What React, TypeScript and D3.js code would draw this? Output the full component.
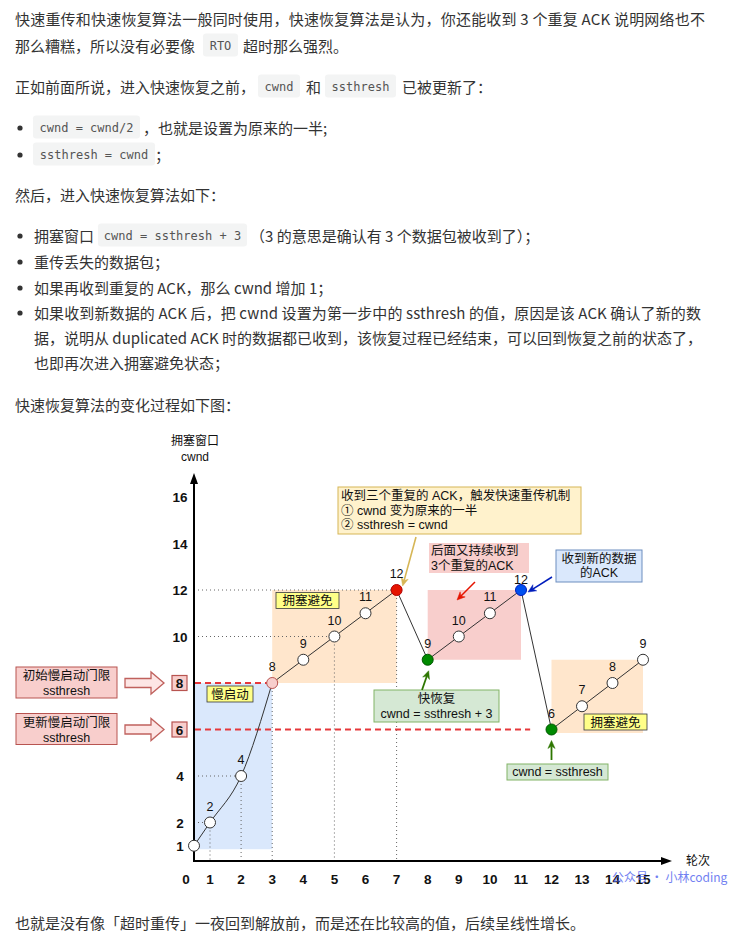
import React from 'react';
import * as d3 from 'd3';

// ---------- chart data ----------
const rounds = [0, 1, 2, 3, 4, 5, 6, 7, 8, 9, 10, 11, 12, 13, 14, 15];
const cwndValues = [1, 2, 4, 8, 9, 10, 11, 12, 9, 10, 11, 12, 6, 7, 8, 9];
const pointKinds = ['n', 'n', 'n', 'thresh', 'n', 'n', 'n', 'loss', 'fast', 'n', 'n', 'newack', 'fast', 'n', 'n', 'n'];
const yTickValues = [1, 2, 4, 6, 8, 10, 12, 14, 16];
const xTickValues = rounds;
const thresholdValues = [8, 6];
const thresholdEndRounds = [3, 11.3];
const thresholdLabels = ['初始慢启动门限', '更新慢启动门限'];
const phaseStartRounds = [0, 3, 8, 12];
const phaseEndRounds = [3, 7, 11, 15];
const phaseLowValues = [0.85, 8, 9, 5.85];
const phaseHighValues = [8, 12, 12, 9];
const phaseColors = ['#dae8fc', '#ffe6cc', '#f8cecc', '#ffe6cc'];
const verticalGuideRounds = [1, 2, 3, 5, 7];
const horizontalGuideRounds = [1, 2, 5, 7];

// ---------- page text ----------
type Seg = { t: string; x: number; code?: boolean; w?: number; fit?: number };
const bodyLines: { y: number; bullet?: boolean; segs: Seg[] }[] = [
  { y: 18, segs: [{ t: '快速重传和快速恢复算法一般同时使用，快速恢复算法是认为，你还能收到 3 个重复 ACK 说明网络也不', x: 15, fit: 690 }] },
  { y: 45, segs: [{ t: '那么糟糕，所以没有必要像', x: 15 }, { t: 'RTO', x: 203, code: true, w: 35 }, { t: '超时那么强烈。', x: 243 }] },
  { y: 86, segs: [{ t: '正如前面所说，进入快速恢复之前，', x: 15 }, { t: 'cwnd', x: 258, code: true, w: 42 }, { t: '和', x: 306 }, { t: 'ssthresh', x: 325, code: true, w: 71 }, { t: '已被更新了：', x: 402 }] },
  { y: 127, bullet: true, segs: [{ t: 'cwnd = cwnd/2', x: 33, code: true, w: 107 }, { t: '，也就是设置为原来的一半;', x: 143 }] },
  { y: 154, bullet: true, segs: [{ t: 'ssthresh = cwnd', x: 33, code: true, w: 122 }, { t: '；', x: 155 }] },
  { y: 194, segs: [{ t: '然后，进入快速恢复算法如下：', x: 15 }] },
  { y: 235, bullet: true, segs: [{ t: '拥塞窗口', x: 34 }, { t: 'cwnd = ssthresh + 3', x: 98, code: true, w: 149 }, { t: '（3 的意思是确认有 3 个数据包被收到了）；', x: 250 }] },
  { y: 261, bullet: true, segs: [{ t: '重传丢失的数据包；', x: 34 }] },
  { y: 287, bullet: true, segs: [{ t: '如果再收到重复的 ACK，那么 cwnd 增加 1；', x: 34 }] },
  { y: 312, bullet: true, segs: [{ t: '如果收到新数据的 ACK 后，把 cwnd 设置为第一步中的 ssthresh 的值，原因是该 ACK 确认了新的数', x: 34, fit: 667 }] },
  { y: 337, segs: [{ t: '据，说明从 duplicated ACK 时的数据都已收到，该恢复过程已经结束，可以回到恢复之前的状态了，', x: 34, fit: 668 }] },
  { y: 362, segs: [{ t: '也即再次进入拥塞避免状态；', x: 34 }] },
  { y: 404, segs: [{ t: '快速恢复算法的变化过程如下图：', x: 15 }] },
  { y: 922, segs: [{ t: '也就是没有像「超时重传」一夜回到解放前，而是还在比较高的值，后续呈线性增长。', x: 15 }] },
];

const BODY_FONT = '"Noto Sans CJK SC", "Noto Sans", sans-serif';
const CODE_FONT = '"DejaVu Sans Mono", "Liberation Mono", monospace';
const CHART_FONT = '"Liberation Sans", Arial, "Noto Sans CJK SC", sans-serif';

function ArrowLine({ x1, y1, x2, y2, color, width = 1.5, head = 8 }: any) {
  const ang = Math.atan2(y2 - y1, x2 - x1);
  const bx = x2 - head * Math.cos(ang);
  const by = y2 - head * Math.sin(ang);
  const hw = head * 0.45;
  const p1 = [bx + hw * Math.sin(ang), by - hw * Math.cos(ang)];
  const p2 = [bx - hw * Math.sin(ang), by + hw * Math.cos(ang)];
  const nx = x2 - head * 0.7 * Math.cos(ang);
  const ny = y2 - head * 0.7 * Math.sin(ang);
  return (
    <g>
      <line x1={x1} y1={y1} x2={nx} y2={ny} stroke={color} strokeWidth={width} />
      <polygon points={`${x2},${y2} ${p1[0]},${p1[1]} ${nx},${ny} ${p2[0]},${p2[1]}`} fill={color} stroke={color} strokeWidth={0.5} />
    </g>
  );
}

function Tag({ cx, cy, w, h, text }: any) {
  return (
    <g>
      <rect x={cx - w / 2} y={cy - h / 2} width={w} height={h} fill="#ffff88" stroke="#36393d" strokeWidth={0.8} />
      <text x={cx} y={cy + 0.5} textAnchor="middle" dominantBaseline="central" fontSize={12.5} fill="#111">{text}</text>
    </g>
  );
}

export default function App() {
  const x = d3.scaleLinear().domain([0, 1, 11, 15]).range([194, 210, 521, 643]);
  const y = d3.scaleLinear().domain([8, 16]).range([683, 497]);
  const axisX = 194;
  const axisY = 861;

  const pts = rounds.map((r, i) => [x(r), y(cwndValues[i])] as [number, number]);
  const curveLine = d3.line().curve(d3.curveMonotoneX)(pts.slice(0, 4)) || '';
  const straightLine = d3.line()(pts.slice(3)) || '';

  const pointStyle = (k: string) => {
    switch (k) {
      case 'thresh': return { fill: '#f8cecc', stroke: '#b85450' };
      case 'loss': return { fill: '#e51400', stroke: '#b20000' };
      case 'fast': return { fill: '#008a00', stroke: '#005700' };
      case 'newack': return { fill: '#0050ef', stroke: '#001dbc' };
      default: return { fill: '#ffffff', stroke: '#333333' };
    }
  };
  const labelDy = (k: string) => (k === 'newack' ? -10 : -16);

  return (
    <svg width={738} height={940} style={{ position: 'absolute', left: 0, top: 0, display: 'block', background: '#fff' }}>
      <rect x={0} y={0} width={738} height={940} fill="#fff" />
      {/* ---- body text ---- */}
      <g fontFamily={BODY_FONT} fontSize={15} fill="#333">
        {bodyLines.map((ln, li) => (
          <g key={li}>
            {ln.bullet && <circle cx={20} cy={ln.y + 1} r={2.6} fill="#333" />}
            {ln.segs.map((s, si) =>
              s.code ? (
                <g key={si}>
                  <rect x={s.x} y={ln.y - 11.5} width={s.w} height={23} rx={3} fill="#f3f4f4" />
                  <text x={s.x + (s.w as number) / 2} y={ln.y + 0.5} textAnchor="middle" dominantBaseline="central"
                    fontFamily={CODE_FONT} fontSize={12} fill="#555">{s.t}</text>
                </g>
              ) : (
                <text key={si} x={s.x} y={ln.y} dominantBaseline="central"
                  {...(s.fit ? { textLength: s.fit, lengthAdjust: 'spacing' } : {})}>{s.t}</text>
              )
            )}
          </g>
        ))}
      </g>

      {/* ---- chart ---- */}
      <g fontFamily={CHART_FONT}>
        {phaseStartRounds.map((s, i) => (
          <rect key={'ph' + i} x={x(s)} y={y(phaseHighValues[i])} width={x(phaseEndRounds[i]) - x(s)}
            height={y(phaseLowValues[i]) - y(phaseHighValues[i])} fill={phaseColors[i]} />
        ))}

        <g stroke="#666" strokeWidth={1} strokeDasharray="1,3">
          {verticalGuideRounds.map((r) => (
            <line key={'vg' + r} x1={x(r)} x2={x(r)} y1={y(cwndValues[r])} y2={axisY} />
          ))}
          {horizontalGuideRounds.map((r) => (
            <line key={'hg' + r} x1={axisX} x2={x(r)} y1={y(cwndValues[r])} y2={y(cwndValues[r])} />
          ))}
        </g>

        {thresholdValues.map((v, i) => (
          <line key={'th' + i} x1={axisX + 1} x2={x(thresholdEndRounds[i])} y1={y(v)} y2={y(v)}
            stroke="#e6383b" strokeWidth={2} strokeDasharray="6,4" />
        ))}

        <line x1={axisX} y1={axisY} x2={axisX} y2={480} stroke="#000" strokeWidth={2} />
        <polygon points={`${axisX},473 ${axisX - 4},484 ${axisX + 4},484`} fill="#000" />
        <line x1={axisX - 1} y1={axisY} x2={664} y2={axisY} stroke="#000" strokeWidth={2} />
        <polygon points={`672,${axisY} 661,${axisY - 4} 661,${axisY + 4}`} fill="#000" />

        <text x={195} y={441} textAnchor="middle" dominantBaseline="central" fontSize={12} fill="#111">拥塞窗口</text>
        <text x={195} y={457} textAnchor="middle" dominantBaseline="central" fontSize={12} fill="#111">cwnd</text>
        <text x={698} y={861} textAnchor="middle" dominantBaseline="central" fontSize={12} fill="#111">轮次</text>

        {yTickValues.map((v) => {
          const boxed = thresholdValues.includes(v);
          return (
            <g key={'yt' + v}>
              {boxed && <rect x={172} y={y(v) - 7.5} width={15} height={15} fill="#f8cecc" stroke="#b85450" strokeWidth={1.2} />}
              <text x={boxed ? 179.5 : 180} y={y(v) + 0.5} textAnchor="middle" dominantBaseline="central"
                fontSize={13.5} fontWeight="bold" fill="#111">{v}</text>
            </g>
          );
        })}
        {xTickValues.map((r) => (
          <text key={'xt' + r} x={r === 0 ? 186 : x(r)} y={879} textAnchor="middle" dominantBaseline="central"
            fontSize={13.5} fontWeight="bold" fill="#111">{r}</text>
        ))}

        <path d={curveLine} fill="none" stroke="#333" strokeWidth={1} />
        <path d={straightLine} fill="none" stroke="#333" strokeWidth={1} />

        <Tag cx={230} cy={694} w={46} h={16} text="慢启动" />
        <Tag cx={307.5} cy={600.5} w={63} h={16} text="拥塞避免" />
        <Tag cx={615.5} cy={722} w={63} h={16} text="拥塞避免" />

        {thresholdValues.map((v, i) => {
          const cy = y(v);
          return (
            <g key={'tb' + i}>
              <rect x={16} y={cy - 16} width={101} height={31} fill="#f8cecc" stroke="#b85450" strokeWidth={1} />
              <text x={66.5} y={cy - 7} textAnchor="middle" dominantBaseline="central" fontSize={12.5} fill="#111">{thresholdLabels[i]}</text>
              <text x={66.5} y={cy + 8} textAnchor="middle" dominantBaseline="central" fontSize={12.5} fill="#111">ssthresh</text>
              <path d={`M125,${cy - 4.5} L151,${cy - 4.5} L151,${cy - 11} L164,${cy} L151,${cy + 11} L151,${cy + 4.5} L125,${cy + 4.5} Z`}
                fill="#fde6e5" stroke="#c0615d" strokeWidth={1.3} />
            </g>
          );
        })}

        {/* annotation: yellow */}
        <rect x={338} y={487} width={243} height={47} fill="#fff2cc" stroke="#d6b656" strokeWidth={1} />
        <g fontSize={12.5} fill="#111">
          <text x={341} y={496} dominantBaseline="central">收到三个重复的 ACK，触发快速重传机制</text>
          <text x={341} y={511} dominantBaseline="central">① cwnd 变为原来的一半</text>
          <text x={341} y={525} dominantBaseline="central">② ssthresh = cwnd</text>
        </g>
        <ArrowLine x1={416} y1={537} x2={x(7) + 6} y2={y(12) - 4} color="#d6b656" width={1.6} />

        {/* annotation: pink */}
        <rect x={429} y={543} width={100} height={30} fill="#f8cecc" />
        <g fontSize={12.5} fill="#111">
          <text x={431} y={551} dominantBaseline="central">后面又持续收到</text>
          <text x={431} y={566} dominantBaseline="central">3个重复的ACK</text>
        </g>
        <ArrowLine x1={475} y1={582} x2={457} y2={600} color="#e51400" width={1.5} />

        {/* annotation: blue */}
        <rect x={556} y={550} width={86} height={32} fill="#dae8fc" stroke="#6c8ebf" strokeWidth={1} />
        <g fontSize={12.5} fill="#111">
          <text x={599} y={559} textAnchor="middle" dominantBaseline="central">收到新的数据</text>
          <text x={599} y={573} textAnchor="middle" dominantBaseline="central">的ACK</text>
        </g>
        <ArrowLine x1={552} y1={577} x2={x(11) + 7} y2={y(12) + 2} color="#001dbc" width={1.5} />

        {/* annotation: green fast recovery */}
        <rect x={374} y={690} width={125} height={32} fill="#d5e8d4" stroke="#82b366" strokeWidth={1} />
        <g fontSize={12.5} fill="#111">
          <text x={436.5} y={699} textAnchor="middle" dominantBaseline="central">快恢复</text>
          <text x={436.5} y={714} textAnchor="middle" dominantBaseline="central">cwnd = ssthresh + 3</text>
        </g>
        <ArrowLine x1={422} y1={690} x2={x(8) + 1} y2={y(9) + 11} color="#2d7600" width={1.8} />

        {/* annotation: green cwnd = ssthresh */}
        <rect x={507} y={764} width={101} height={16} fill="#d5e8d4" stroke="#82b366" strokeWidth={1} />
        <text x={557.5} y={772} textAnchor="middle" dominantBaseline="central" fontSize={12.5} fill="#111">cwnd = ssthresh</text>
        <ArrowLine x1={x(12)} y1={760} x2={x(12)} y2={y(6) + 11} color="#2d7600" width={1.8} />

        {/* points and value labels */}
        {pts.map(([px, py], i) => {
          const st = pointStyle(pointKinds[i]);
          return <circle key={'pt' + i} cx={px} cy={py} r={5.5} fill={st.fill} stroke={st.stroke} strokeWidth={1} />;
        })}
        {pts.map(([px, py], i) =>
          i === 0 ? null : (
            <text key={'pl' + i} x={px} y={py + labelDy(pointKinds[i])} textAnchor="middle" dominantBaseline="central" fontSize={12.5} fill="#111">
              {cwndValues[i]}
            </text>
          )
        )}

        {/* watermark */}
        <text x={612} y={876} dominantBaseline="central" fontSize={12} fill="#5a6cf0" opacity={0.85}
          fontFamily={BODY_FONT}>公众号 · 小林coding</text>
      </g>
    </svg>
  );
}
